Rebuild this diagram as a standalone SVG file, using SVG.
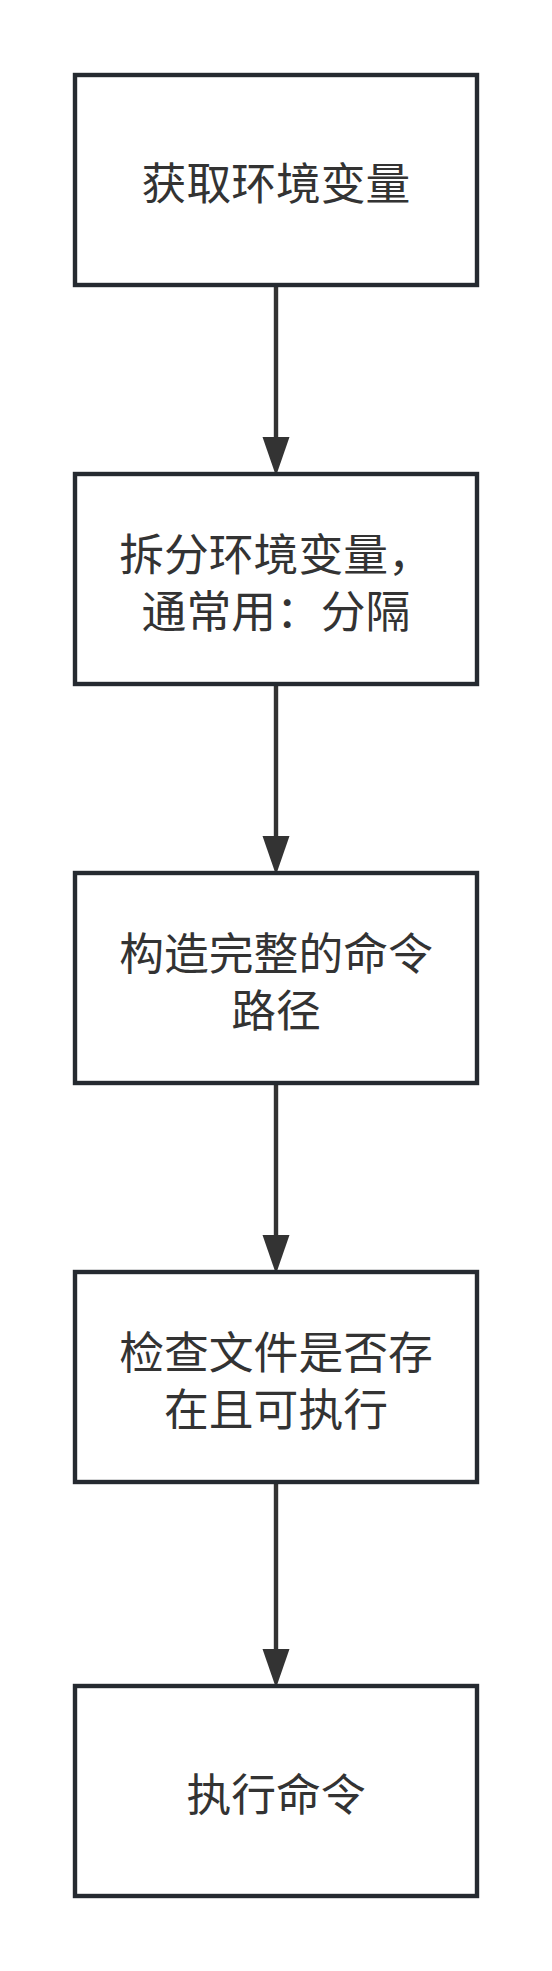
<svg xmlns="http://www.w3.org/2000/svg" width="552" height="1971" viewBox="0 0 552 1971">
<style>
.box{fill:#ffffff;stroke:#252a30;stroke-width:4.4}
.lbl{font-family:"Noto Sans CJK SC","Noto Sans",sans-serif;font-size:44.8px;fill:#333333;text-anchor:middle}
.edge{stroke:#333333;stroke-width:4.4;fill:none}
.head{fill:#333333}
</style>
<rect width="552" height="1971" fill="#ffffff"/>
<g id="connectors">
<line class="edge" x1="276" y1="287" x2="276" y2="440"/>
<polygon class="head" points="262.5,437 289.5,437 276,476"/>
<line class="edge" x1="276" y1="686" x2="276" y2="839"/>
<polygon class="head" points="262.5,836 289.5,836 276,875"/>
<line class="edge" x1="276" y1="1085" x2="276" y2="1238"/>
<polygon class="head" points="262.5,1235 289.5,1235 276,1274"/>
<line class="edge" x1="276" y1="1484" x2="276" y2="1652"/>
<polygon class="head" points="262.5,1649 289.5,1649 276,1688"/>
</g>
<g id="node1">
<rect class="box" x="75" y="75" width="402" height="210"/>
<text class="lbl" x="276" y="200">获取环境变量</text>
</g>
<g id="node2">
<rect class="box" x="75" y="474" width="402" height="210"/>
<text class="lbl" x="276" y="571">拆分环境变量，</text>
<text class="lbl" x="276" y="628">通常用：分隔</text>
</g>
<g id="node3">
<rect class="box" x="75" y="873" width="402" height="210"/>
<text class="lbl" x="276" y="970">构造完整的命令</text>
<text class="lbl" x="276" y="1027">路径</text>
</g>
<g id="node4">
<rect class="box" x="75" y="1272" width="402" height="210"/>
<text class="lbl" x="276" y="1369">检查文件是否存</text>
<text class="lbl" x="276" y="1426">在且可执行</text>
</g>
<g id="node5">
<rect class="box" x="75" y="1686" width="402" height="210"/>
<text class="lbl" x="276" y="1811">执行命令</text>
</g>
</svg>
